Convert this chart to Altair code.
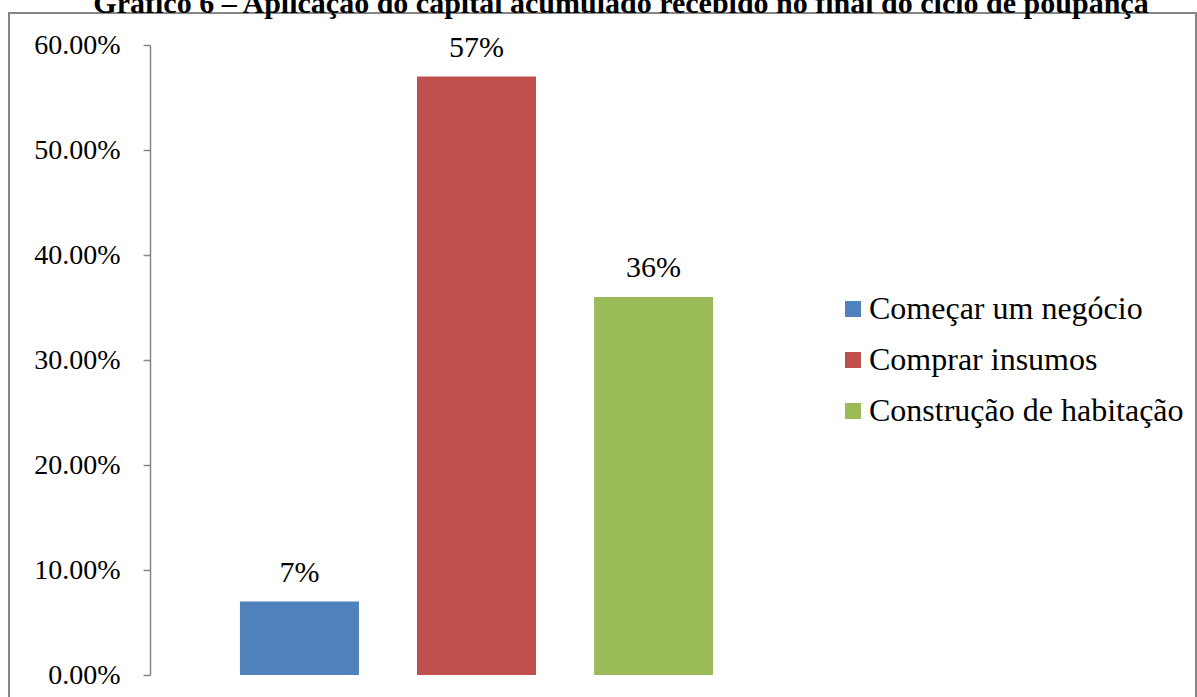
import altair as alt
import pandas as pd

categories = ["Começar um negócio", "Comprar insumos", "Construção de habitação"]
values = [0.07, 0.57, 0.36]
labels = ["7%", "57%", "36%"]
colors = ["#4F81BD", "#C0504D", "#9BBB59"]
title_text = "Gráfico 6 – Aplicação do capital acumulado recebido no final do ciclo de poupança"

df = pd.DataFrame({"cat": categories, "val": values, "lab": labels})
FONT = "Liberation Serif"

base = alt.Chart(df)

x_enc = alt.X("cat:N", sort=categories, axis=None,
              scale=alt.Scale(paddingInner=0.328, paddingOuter=0.508))

bars = base.mark_bar().encode(
    x=x_enc,
    y=alt.Y("val:Q", scale=alt.Scale(domain=[0, 0.6]),
            axis=alt.Axis(format=".2%", values=[0, 0.1, 0.2, 0.3, 0.4, 0.5, 0.6],
                          title=None, grid=False, labelFont=FONT, labelFontSize=28,
                          labelColor="black", tickSize=7, labelPadding=23,
                          domainColor="#868686", tickColor="#868686",
                          domainWidth=1.5, tickWidth=1.5)),
    color=alt.Color("cat:N", sort=categories,
                    scale=alt.Scale(domain=categories, range=colors),
                    legend=alt.Legend(title=None, orient="none", legendX=687, legendY=248,
                                      symbolType="square", symbolSize=256,
                                      symbolStrokeWidth=0,
                                      labelFont=FONT, labelFontSize=32, labelColor="black",
                                      rowPadding=19, labelOffset=0, labelLimit=400)),
)

text = base.mark_text(font=FONT, fontSize=30, baseline="bottom", dy=-14, color="black").encode(
    x=alt.X("cat:N", sort=categories),
    y="val:Q",
    text="lab:N",
)

border = alt.Chart(pd.DataFrame({"a": [0]})).mark_rect(
    fill=None, stroke="#868686", strokeWidth=2
).encode(
    x=alt.value(-141), x2=alt.value(1046), y=alt.value(-32), y2=alt.value(700)
)

title = alt.Chart(pd.DataFrame({"t": [title_text]})).mark_text(
    font=FONT, fontSize=30, fontWeight="bold", color="black", baseline="alphabetic"
).encode(x=alt.value(471), y=alt.value(-32), text="t:N")

chart = alt.layer(border, bars, text, title).properties(
    width=653, height=630,
    background="white",
    autosize=alt.AutoSizeParams(type="none"),
    padding={"left": 150, "top": 45, "right": 394, "bottom": 22},
).configure_view(strokeWidth=0, stroke=None)

chart.save("out.html", embed_options={"renderer": "svg", "actions": False})
